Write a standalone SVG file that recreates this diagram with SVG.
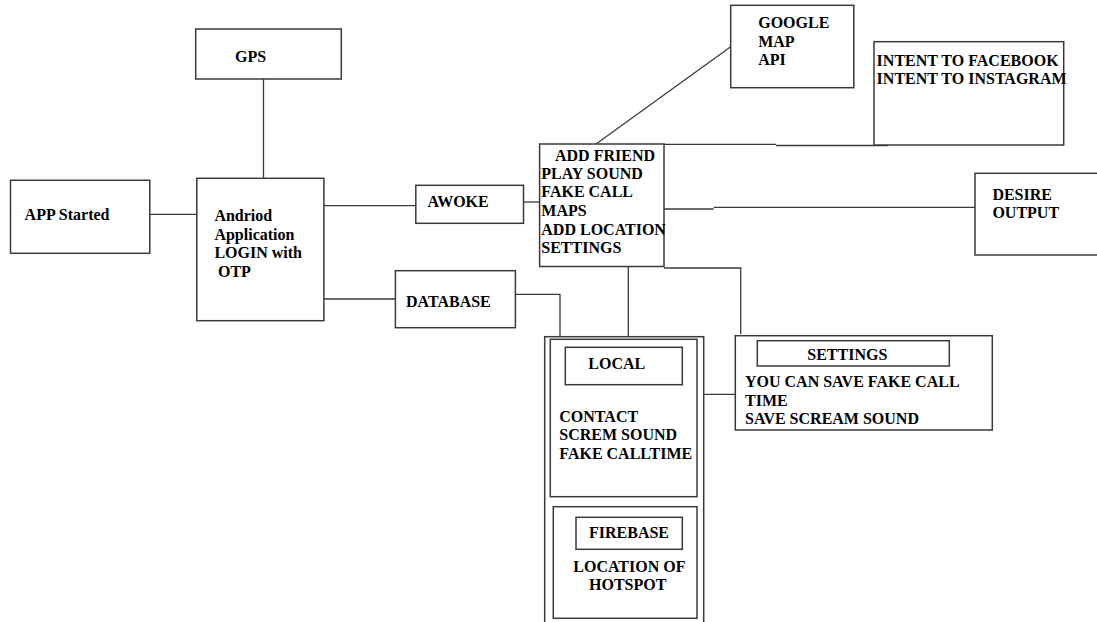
<svg xmlns="http://www.w3.org/2000/svg" width="1097" height="622" viewBox="0 0 1097 622">
<style>
.box{fill:#fff;stroke:#3a3a3a;stroke-width:1.5}
.ln{fill:none;stroke:#3a3a3a;stroke-width:1.3}
.t{font-family:'Liberation Serif','Times New Roman',Times,serif;font-weight:700;font-size:16px;fill:#000}
</style>
<rect width="1097" height="622" fill="#fff"/>
<g id="connectors">
<line class="ln" x1="263.5" y1="79" x2="263.5" y2="179"/>
<line class="ln" x1="150" y1="214.3" x2="199" y2="214.3"/>
<line class="ln" x1="324" y1="205.7" x2="416" y2="205.7"/>
<line class="ln" x1="523.5" y1="202" x2="540" y2="202"/>
<line class="ln" x1="324" y1="299" x2="395" y2="299"/>
<polyline class="ln" points="515,294.3 560,294.3 560,337"/>
<line class="ln" x1="730.7" y1="46.7" x2="596" y2="144"/>
<polyline class="ln" points="664,144.3 776,144.3"/>
<polyline class="ln" points="776,145.5 888,145.5"/>
<polyline class="ln" points="664,209 713.7,209"/>
<polyline class="ln" points="713.7,207.3 976,207.3"/>
<line class="ln" x1="628.3" y1="266" x2="628.3" y2="336.7"/>
<polyline class="ln" points="664,268 740.7,268 740.7,334"/>
<line class="ln" x1="703" y1="394.3" x2="735.3" y2="394.3"/>
</g>
<g class="t" font-family="Liberation Serif, Times New Roman, serif" font-weight="bold" font-size="16">
<g id="gps">
<rect class="box" x="195.7" y="29" width="145.6" height="50"/>
<text x="235" y="61.5">GPS</text>
</g>
<g id="app-started">
<rect class="box" x="10.5" y="180.3" width="139.3" height="73"/>
<text x="24.6" y="220">APP Started</text>
</g>
<g id="android-app">
<rect class="box" x="196.8" y="178.3" width="127.1" height="142.4"/>
<text x="214.4" y="220.7">Andriod</text>
<text x="214.4" y="240">Application</text>
<text x="214.4" y="258.3">LOGIN with</text>
<text x="218" y="276.7">OTP</text>
</g>
<g id="awoke">
<rect class="box" x="415.8" y="185.3" width="107.7" height="38"/>
<text x="427.4" y="207.3">AWOKE</text>
</g>
<g id="database">
<rect class="box" x="395.4" y="270.7" width="120" height="57"/>
<text x="406" y="307.3">DATABASE</text>
</g>
<g id="features">
<rect class="box" x="539.6" y="144" width="124.4" height="122.5"/>
<text x="555" y="160.7">ADD FRIEND</text>
<text x="541.3" y="179">PLAY SOUND</text>
<text x="541.3" y="197.3">FAKE CALL</text>
<text x="541.3" y="216">MAPS</text>
<text x="541.3" y="235">ADD LOCATION</text>
<text x="541.3" y="253.3">SETTINGS</text>
</g>
<g id="google-map-api">
<rect class="box" x="730.7" y="5.3" width="123.1" height="82.4"/>
<text x="758.2" y="28.3">GOOGLE</text>
<text x="758.2" y="46.7">MAP</text>
<text x="758.2" y="65">API</text>
</g>
<g id="intents">
<rect class="box" x="874" y="41.7" width="189.7" height="103.3"/>
<text x="876.6" y="65.7">INTENT TO FACEBOOK</text>
<text x="876.6" y="84">INTENT TO INSTAGRAM</text>
</g>
<g id="desire-output">
<rect class="box" x="975" y="173.3" width="130" height="81.7"/>
<text x="992.4" y="200">DESIRE</text>
<text x="992.4" y="218.3">OUTPUT</text>
</g>
<g id="storage">
<rect class="box" x="544.7" y="336.7" width="159" height="300"/>
<g id="local">
<rect class="box" x="550.3" y="339.3" width="146.7" height="157.4"/>
<rect class="box" x="565.3" y="347.3" width="117" height="37.4"/>
<text x="588.3" y="369">LOCAL</text>
<text x="559.3" y="421.7">CONTACT</text>
<text x="559.3" y="440.3">SCREM SOUND</text>
<text x="559.3" y="459">FAKE CALLTIME</text>
</g>
<g id="firebase">
<rect class="box" x="553.3" y="506.7" width="143.7" height="111.6"/>
<rect class="box" x="576" y="517.3" width="106.3" height="32"/>
<text x="589" y="537.7">FIREBASE</text>
<text x="573.3" y="571.7">LOCATION OF</text>
<text x="589" y="590">HOTSPOT</text>
</g>
</g>
<g id="settings">
<rect class="box" x="735.3" y="335.7" width="257" height="94.3"/>
<rect class="box" x="757.3" y="340.7" width="192" height="25.3"/>
<text x="807.3" y="360">SETTINGS</text>
<text x="745" y="387.3">YOU CAN SAVE FAKE CALL</text>
<text x="745" y="405.7">TIME</text>
<text x="745" y="424.3">SAVE SCREAM SOUND</text>
</g>
</g>
</svg>
